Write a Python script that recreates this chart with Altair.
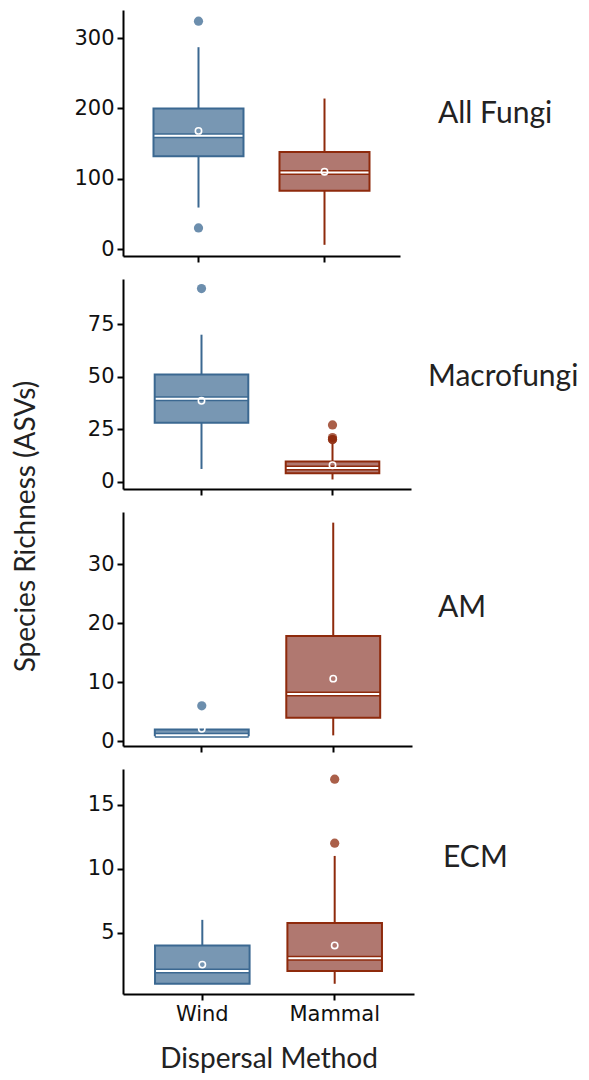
import altair as alt
import pandas as pd

groups = ["Wind", "Mammal"]
panels = ["All Fungi", "Macrofungi", "AM", "ECM"]

# box-plot summaries per panel: [Wind, Mammal]
lower  = [[59, 6],    [6, 1],      [1, 1],    [1, 1]]
q1     = [[132, 83],  [28, 4],     [1, 4],    [1, 2]]
median = [[161, 109], [39.5, 6.5], [1, 8],    [2, 3]]
q3     = [[200, 138], [51, 9.5],   [2, 17.8], [4, 5.75]]
upper  = [[287, 214], [70, 18],    [2, 37],   [6, 11]]
means  = [[168, 110], [38.5, 7.8], [2.1, 10.6], [2.5, 4.0]]
outliers = [[[324, 30], []], [[92], [20, 20, 21, 27]], [[6], []], [[], [12, 17]]]
y_ticks = [[0, 100, 200, 300], [0, 25, 50, 75], [0, 10, 20, 30], [5, 10, 15]]

# layout (pixels)
widths = [277, 288, 289, 291]
heights = [246, 210, 234, 225]
label_x = [315, 305, 315, 320]
label_y = [113, 107, 105, 98]

fills = ["#7897B3", "#B07870"]
strokes = ["#3B6891", "#8E2A0C"]
dots = ["#6A8DB0", "#B2604A"]
P_IN, P_OUT = 0.2857, 0.242

def panel(i):
    box = pd.DataFrame({
        "group": groups, "lower": lower[i], "q1": q1[i], "median": median[i],
        "q3": q3[i], "upper": upper[i], "mean": means[i],
    })
    out = pd.DataFrame(
        [{"group": g, "value": v} for g, vals in zip(groups, outliers[i]) for v in vals],
        columns=["group", "value"],
    )
    allv = lower[i] + upper[i] + [v for vals in outliers[i] for v in vals]
    lo, hi = min(allv), max(allv)
    pad = (hi - lo) * 0.05
    yscale = alt.Scale(domain=[lo - pad, hi + pad], nice=False, zero=False)
    yaxis = alt.Axis(values=y_ticks[i], title=None, minExtent=55, maxExtent=55)
    last = i == 3
    xaxis = alt.Axis(title="Dispersal Method" if last else None, labels=last, labelAngle=0)
    xscale = alt.Scale(domain=groups, paddingInner=P_IN, paddingOuter=P_OUT)
    x = alt.X("group:N", sort=groups, scale=xscale, axis=xaxis)
    bw = widths[i] / (2 - P_IN + 2 * P_OUT) * (1 - P_IN)
    fill = alt.Fill("group:N", scale=alt.Scale(domain=groups, range=fills), legend=None)
    stroke = alt.Stroke("group:N", scale=alt.Scale(domain=groups, range=strokes), legend=None)
    dotc = alt.Color("group:N", scale=alt.Scale(domain=groups, range=dots), legend=None)

    def Y(f):
        return alt.Y(f, type="quantitative", scale=yscale, axis=yaxis)

    base = alt.Chart(box)
    whisk = base.mark_rule(strokeWidth=2).encode(x=x, y=Y("lower"), y2="upper:Q", stroke=stroke)
    bars = base.mark_bar(strokeWidth=2, fillOpacity=1).encode(x=x, y=Y("q1"), y2="q3:Q", fill=fill, stroke=stroke)
    med_d = base.mark_tick(thickness=5, size=bw, opacity=1).encode(x=x, y=Y("median"), color=alt.Color("group:N", scale=alt.Scale(domain=groups, range=strokes), legend=None))
    med_w = base.mark_tick(thickness=2, size=bw - 2, opacity=1, color="white").encode(x=x, y=Y("median"))
    mean = base.mark_point(shape="circle", filled=False, stroke="white", strokeWidth=1.6, size=40, opacity=1).encode(x=x, y=Y("mean"))
    outs = alt.Chart(out).mark_circle(size=85, opacity=0.75).encode(x=x, y=Y("value"), color=dotc)
    lab = alt.Chart(pd.DataFrame({"label": [panels[i]]})).mark_text(
        align="left", baseline="alphabetic", font="Lato", fontSize=30, color="#222222"
    ).encode(x=alt.value(label_x[i]), y=alt.value(label_y[i]), text="label:N")
    return alt.layer(whisk, bars, med_d, med_w, mean, outs, lab).properties(
        width=widths[i], height=heights[i]
    )

chart = alt.vconcat(*[panel(i) for i in range(4)], spacing=16).properties(
    title=alt.TitleParams(
        "Species Richness (ASVs)", orient="left", anchor="middle", font="Lato",
        fontSize=28, fontWeight="normal", color="#222222", offset=27, dx=15,
    ),
    padding={"left": 4, "top": 2, "right": 0, "bottom": 0},
).configure_view(stroke=None).configure_axis(
    grid=False, domainColor="black", domainWidth=2, tickColor="black", tickWidth=2,
    tickSize=6, labelFont="DejaVu Sans", labelFontSize=21, labelColor="#111111",
    labelPadding=3, titleFont="Lato", titleFontSize=28, titleFontWeight="normal",
    titleColor="#222222", titlePadding=21,
)

chart.save("out.html", embed_options={"renderer": "svg", "actions": False})
